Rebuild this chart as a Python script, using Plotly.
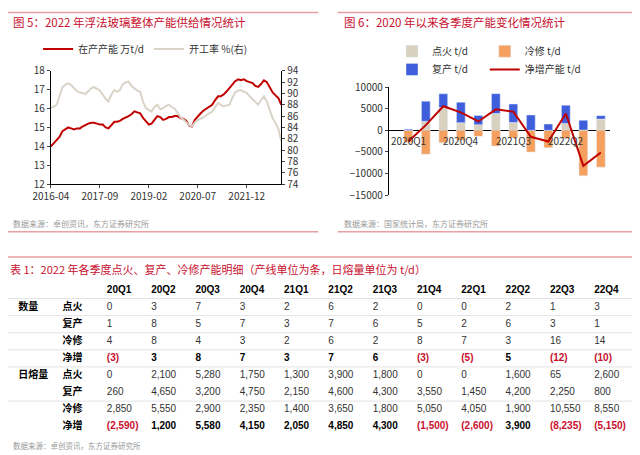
import plotly.graph_objects as go
import pandas as pd

# ---- Chart 5 data (monthly, 2016-04 .. 2022-12)
months = pd.date_range("2016-04-01", periods=81, freq="MS")
capacity = [14.0,14.15,14.3,14.5,14.8,14.9,15.0,14.95,14.9,14.95,14.95,15.05,15.15,15.2,15.25,15.25,15.2,15.15,15.15,15.0,
            14.95,15.15,15.3,15.3,15.35,15.45,15.55,15.6,15.7,15.85,15.8,15.75,15.5,15.3,15.15,15.2,15.4,15.6,15.55,15.4,
            15.45,15.55,15.55,15.6,15.6,15.5,15.45,15.35,15.1,15.05,15.4,15.6,15.75,15.9,16.0,16.1,16.2,16.45,16.65,16.65,
            16.75,16.9,17.1,17.3,17.45,17.55,17.5,17.55,17.45,17.4,17.35,17.2,17.15,17.3,17.5,17.4,17.1,16.85,16.7,16.55,16.2]
utilization = [87.4,87.7,88.0,89.5,91.1,91.5,91.8,91.5,91.0,90.4,90.2,90.0,89.9,90.4,90.9,91.1,90.8,90.5,89.8,89.0,
               88.6,89.8,90.6,90.3,90.6,91.6,92.0,92.1,91.3,90.9,90.5,90.3,88.5,87.4,87.0,86.8,87.6,88.0,87.2,87.4,
               87.8,88.0,87.6,87.3,86.6,85.8,85.4,84.9,84.4,84.2,84.9,85.3,85.5,85.8,86.2,86.5,86.8,87.6,88.3,88.0,
               87.7,87.9,88.0,89.2,90.2,90.5,90.6,90.3,90.1,89.5,89.0,88.5,88.0,88.8,89.5,88.6,87.1,85.6,84.8,83.7,81.5]
x5_ticks = ["2016-04-01","2017-09-01","2019-02-01","2020-07-01","2021-12-01"]

# ---- Table / Chart 6 data
quarters = ["20Q1","20Q2","20Q3","20Q4","21Q1","21Q2","21Q3","21Q4","22Q1","22Q2","22Q3","22Q4"]
q_labels = ["2020Q1","2020Q2","2020Q3","2020Q4","2021Q1","2021Q2","2021Q3","2021Q4","2022Q1","2022Q2","2022Q3","2022Q4"]
row_groups = ["数量", "日熔量"]
row_items = ["点火", "复产", "冷修", "净增"]
n_ignite = [0,3,7,3,2,6,2,0,0,2,1,3]
n_resume = [1,8,5,7,3,7,6,5,2,6,3,1]
n_cold = [4,8,4,3,2,6,2,8,7,3,16,14]
n_net = [-3,3,8,7,3,7,6,-3,-5,5,-12,-10]
t_ignite = [0,2100,5280,1750,1300,3900,1800,0,0,1600,65,2600]
t_resume = [260,4650,3200,4750,2150,4600,4300,3550,1450,4200,2250,800]
t_cold = [2850,5550,2900,2350,1400,3650,1800,5050,4050,1900,10550,8550]
t_net = [-2590,1200,5580,4150,2050,4850,4300,-1500,-2600,3900,-8235,-5150]

RED = "#C8102E"
fig = go.Figure()

fig.add_trace(go.Scatter(x=months, y=capacity, name="在产产能 万t/d", line=dict(color="#C00000", width=2),
                         xaxis="x", yaxis="y", legend="legend"))
fig.add_trace(go.Scatter(x=months, y=utilization, name="开工率 %(右)", line=dict(color="#D9D4C7", width=2),
                         xaxis="x", yaxis="y2", legend="legend"))

fig.add_trace(go.Bar(x=q_labels, y=t_ignite, name="点火 t/d", marker_color="#D8D1BF", xaxis="x3", yaxis="y3", legend="legend2", width=0.5))
fig.add_trace(go.Bar(x=q_labels, y=[-v for v in t_cold], name="冷修 t/d", marker_color="#F5A05E", xaxis="x3", yaxis="y3", legend="legend3", width=0.5))
fig.add_trace(go.Bar(x=q_labels, y=t_resume, name="复产 t/d", marker_color="#3E5EDB", xaxis="x3", yaxis="y3", legend="legend4", width=0.5))
fig.add_trace(go.Scatter(x=q_labels, y=t_net, name="净增产能 t/d", mode="lines", line=dict(color="#C00000", width=2),
                         xaxis="x3", yaxis="y3", legend="legend5"))

# ---- Table as text marks on category axes
def fmt(v, comma=True):
    s = f"{abs(v):,}" if comma else str(abs(v))
    return f"({s})" if v < 0 else s

col_keys = ["g", "i"] + quarters
row_keys = ["hdr"] + [f"n{k}" for k in range(4)] + [f"t{k}" for k in range(4)]
tx, ty, tt, tc = [], [], [], []
def cell(c, r, text, color="#333"):
    tx.append(c); ty.append(r); tt.append(text); tc.append(color)

for q in quarters:
    cell(q, "hdr", f"<b>{q}</b>", "#000")
cell("g", "n0", f"<b>{row_groups[0]}</b>", "#000")
cell("g", "t0", f"<b>{row_groups[1]}</b>", "#000")
for k, it in enumerate(row_items):
    cell("i", f"n{k}", f"<b>{it}</b>", "#000")
    cell("i", f"t{k}", f"<b>{it}</b>", "#000")
for i, q in enumerate(quarters):
    cell(q, "n0", str(n_ignite[i])); cell(q, "n1", str(n_resume[i])); cell(q, "n2", str(n_cold[i]))
    cell(q, "n3", f"<b>{fmt(n_net[i], False)}</b>", RED if n_net[i] < 0 else "#000")
    cell(q, "t0", f"{t_ignite[i]:,}"); cell(q, "t1", f"{t_resume[i]:,}"); cell(q, "t2", f"{t_cold[i]:,}")
    cell(q, "t3", f"<b>{fmt(t_net[i])}</b>", RED if t_net[i] < 0 else "#000")

fig.add_trace(go.Scatter(x=tx, y=ty, text=tt, mode="text", textposition="middle right",
                         textfont=dict(size=10, color=tc, family="Liberation Sans, Noto Sans CJK SC"),
                         xaxis="x4", yaxis="y4", showlegend=False, hoverinfo="skip"))

F = "Noto Sans CJK SC, Noto Sans, sans-serif"
ann = [
    dict(x=0.005, y=0.97, text="图 5：2022 年浮法玻璃整体产能供给情况统计", font=dict(size=11.5, color=RED)),
    dict(x=0.522, y=0.97, text="图 6：2020 年以来各季度产能变化情况统计", font=dict(size=11.5, color=RED)),
    dict(x=0.005, y=0.527, text="数据来源：卓创资讯，东方证券研究所", font=dict(size=8, color="#999")),
    dict(x=0.522, y=0.527, text="数据来源：国家统计局，东方证券研究所", font=dict(size=8, color="#999")),
    dict(x=0.0, y=1 - 261/455, text="表 1：2022 年各季度点火、复产、冷修产能明细（产线单位为条，日熔量单位为 t/d）", font=dict(size=11, color=RED)),
    dict(x=0.005, y=1 - 437/455, text="数据来源：卓创资讯，东方证券研究所", font=dict(size=7.5, color="#999")),
]
for a in ann:
    a.update(xref="paper", yref="paper", xanchor="left", yanchor="middle", showarrow=False)
for i in range(0, 12, 3):
    ann.append(dict(x=q_labels[i], y=0, xref="x3", yref="y3", text=q_labels[i], showarrow=False,
                    yanchor="top", yshift=-1, font=dict(size=10, color="#333")))

lines = []
for (x0, x1, y) in [(0, 0.485, 0.99), (0.515, 0.99, 0.99), (0, 0.485, 0.508), (0.515, 0.99, 0.508),
                    (0, 0.995, 1 - 249/455), (0, 0.995, 1 - 448/455)]:
    lines.append(dict(type="line", xref="paper", yref="paper", x0=x0, x1=x1, y0=y, y1=y,
                      line=dict(color="#E8A0A0", width=1.5)))
for yb in [-0.65, 0.5, 1.5, 2.5, 3.5, 4.5, 6.5]:
    lines.append(dict(type="line", xref="paper", yref="y4", x0=0, x1=0.995, y0=yb, y1=yb,
                      line=dict(color="#E3E3E3", width=1), layer="below"))

axfont = dict(size=10, color="#333")
leg = dict(orientation="h", xanchor="left", yanchor="middle", font=dict(size=10), bgcolor="rgba(0,0,0,0)")
fig.update_layout(
    width=640, height=455, margin=dict(l=0, r=0, t=0, b=0, autoexpand=False),
    paper_bgcolor="white", plot_bgcolor="rgba(0,0,0,0)", font=dict(family=F, color="#333"),
    barmode="relative", bargap=0.5,
    annotations=ann, shapes=lines,
    xaxis=dict(domain=[0.067, 0.427], type="date", range=["2016-04-01", "2022-12-01"],
               tickvals=x5_ticks, tickformat="%Y-%m", showline=True, linecolor="#000",
               ticks="outside", ticklen=3, tickfont=axfont, showgrid=False, anchor="y"),
    yaxis=dict(domain=[0.613, 0.862], range=[12, 18], dtick=1, showline=True, linecolor="#000",
               showgrid=False, tickfont=axfont, ticks="outside", ticklen=3, anchor="x"),
    yaxis2=dict(overlaying="y", side="right", range=[74, 94], dtick=2, showline=True, linecolor="#000",
                showgrid=False, tickfont=axfont, ticks="outside", ticklen=3, anchor="x"),
    xaxis3=dict(domain=[0.595, 0.94], anchor="y3", showticklabels=False, showgrid=False, showline=False),
    yaxis3=dict(domain=[0.589, 0.826], range=[-15000, 10000], dtick=5000, tickformat="d", showline=True, linecolor="#000",
                showgrid=False, zeroline=True, zerolinecolor="#000", zerolinewidth=1, tickfont=axfont,
                ticks="outside", ticklen=3, anchor="x3"),
    xaxis4=dict(domain=[2.7/640, 627.4/640], type="category", categoryarray=col_keys, categoryorder="array",
                range=[-0.17, 13.93], visible=False, anchor="y4"),
    yaxis4=dict(domain=[0.0609, 0.399], type="category", categoryarray=row_keys, categoryorder="array",
                range=[8.5, -0.5], visible=False, anchor="x4"),
    legend=dict(orientation="h", x=0.215, xanchor="center", y=0.91, yanchor="middle",
                font=dict(size=10), bgcolor="rgba(0,0,0,0)"),
    legend2=dict(leg, x=0.60, y=0.905),
    legend3=dict(leg, x=0.745, y=0.905),
    legend4=dict(leg, x=0.60, y=0.865),
    legend5=dict(leg, x=0.745, y=0.865),
    showlegend=True,
)
fig.write_html("out.html")
